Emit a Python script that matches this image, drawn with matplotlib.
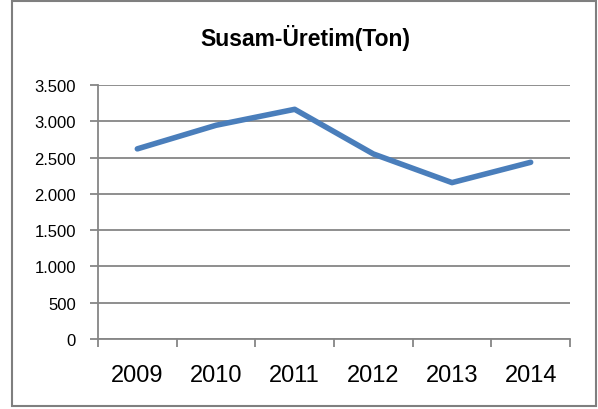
import matplotlib
matplotlib.use('Agg')
import matplotlib.pyplot as plt
from matplotlib.ticker import FuncFormatter, FixedLocator, NullFormatter
from matplotlib.patches import Rectangle

plt.rcParams['font.family'] = ['Liberation Sans', 'DejaVu Sans']

# data
years  = ['2009', '2010', '2011', '2012', '2013', '2014']
uretim = [2620, 2945, 3165, 2550, 2155, 2435]
yticks = [0, 500, 1000, 1500, 2000, 2500, 3000, 3500]

grid_col = '#868686'
line_col = '#4A7EBB'

fig = plt.figure(figsize=(5.98, 4.10), dpi=100)
fig.patches.append(Rectangle((12 / 598, 3 / 410), 584 / 598, 405 / 410,
                             transform=fig.transFigure, fill=False,
                             edgecolor='#7f7f7f', lw=1.5))

ax = fig.add_axes([98 / 598, 1 - 340 / 410, 472 / 598, 254 / 410])
x = list(range(len(years)))
ax.plot(x, uretim, color=line_col, lw=4, solid_capstyle='round', zorder=3)

ax.set_xlim(-0.5, len(years) - 0.5)
ax.set_ylim(0, 3500)
ax.set_yticks(yticks)
ax.yaxis.set_major_formatter(FuncFormatter(lambda v, p: f'{int(v):,}'.replace(',', '.')))
ax.yaxis.grid(True, color=grid_col, lw=1.3)
ax.set_axisbelow(True)

# category axis: ticks between categories, labels centred
ax.xaxis.set_major_locator(FixedLocator([i - 0.5 for i in range(len(years) + 1)]))
ax.xaxis.set_major_formatter(NullFormatter())
ax.xaxis.set_minor_locator(FixedLocator(x))
ax.set_xticklabels(years, minor=True)
ax.tick_params(axis='x', which='minor', length=0, labelsize=17, pad=18)
ax.tick_params(axis='x', which='major', length=6, color=grid_col, width=1.3)
ax.tick_params(axis='y', length=6, color=grid_col, width=1.3, labelsize=12, pad=10)

for s in ['top', 'right']:
    ax.spines[s].set_visible(False)
for s in ['left', 'bottom']:
    ax.spines[s].set_color(grid_col)
    ax.spines[s].set_linewidth(1.3)

fig.text(0.51, 1 - 38 / 410, 'Susam-Üretim(Ton)', ha='center', va='center',
         fontsize=16.5, fontweight='bold')

fig.savefig('out.png', dpi=100)
